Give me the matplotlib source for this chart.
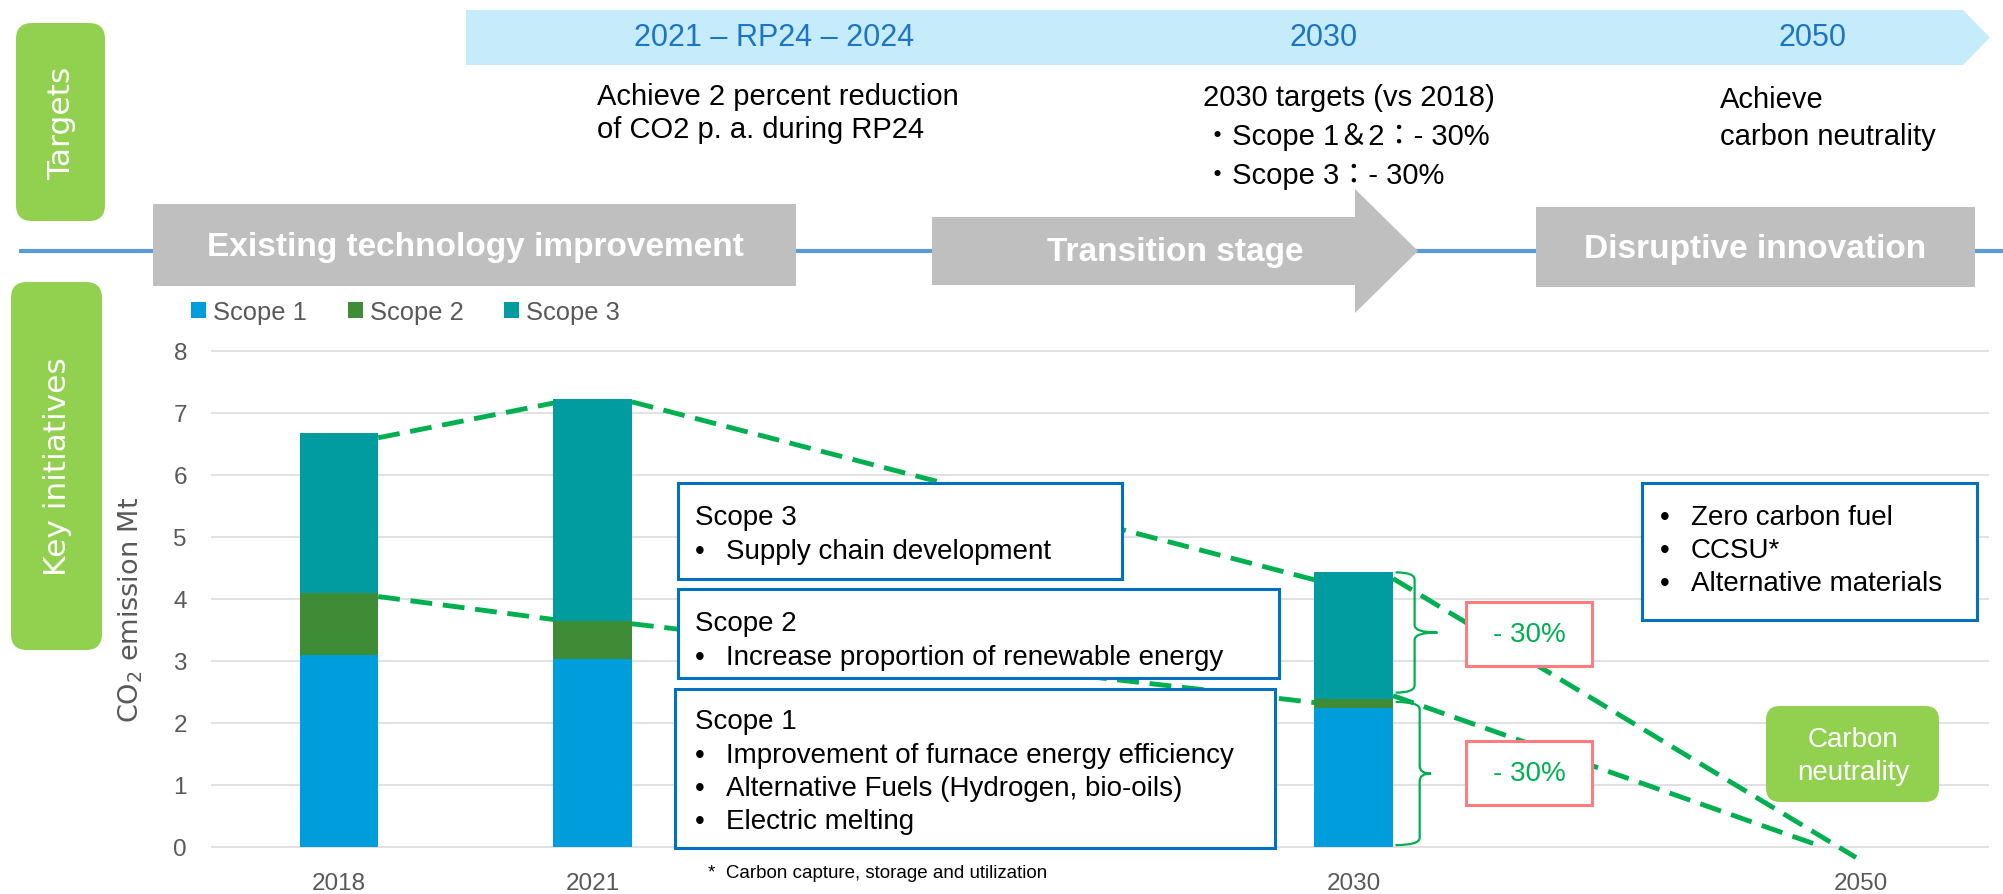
import numpy as np
import matplotlib
matplotlib.use('Agg')
import matplotlib.pyplot as plt
from matplotlib.patches import Rectangle, Polygon, FancyBboxPatch, PathPatch
from matplotlib.path import Path

W, H = 2003, 895

# chart data (Mt CO2), blank categories keep the original spacing
categories = ['2018', '2021', '', '', '2030', '', '2050']
scope1 = [3.09, 3.03, 0, 0, 2.25, 0, 0]
scope2 = [1.00, 0.62, 0, 0, 0.14, 0, 0]
scope3 = [2.59, 3.58, 0, 0, 2.04, 0, 0]
series_names = ['Scope 1', 'Scope 2', 'Scope 3']
y_ticks = [0, 1, 2, 3, 4, 5, 6, 7, 8]
target_2050 = 0.0

# text content
timeline_labels = ['2021 – RP24 – 2024', '2030', '2050']
rp24_note = ['Achieve 2 percent reduction', 'of CO2 p. a. during RP24']
target_2030_note = ['2030 targets (vs 2018)', '・Scope 1＆2：- 30%', '・Scope 3：- 30%']
target_2050_note = ['Achieve', 'carbon neutrality']
phases = ['Existing technology improvement', 'Transition stage', 'Disruptive innovation']
scope3_items = ['Supply chain development']
scope2_items = ['Increase proportion of renewable energy']
scope1_items = ['Improvement of furnace energy efficiency',
                'Alternative Fuels (Hydrogen, bio-oils)',
                'Electric melting']
future_items = ['Zero carbon fuel', 'CCSU*', 'Alternative materials']
reduction_label = '- 30%'
footnote = '*  Carbon capture, storage and utilization'

C_S1 = '#009DDC'
C_S2 = '#3E8C35'
C_S3 = '#009C9F'
GREEN_DASH = '#00B050'
BOX_BLUE = '#0070C0'
PINK = '#FF7C80'
LIME = '#92D050'
GRAY_BOX = '#BFBFBF'
TXT_GRAY = '#595959'

SANS = ['Liberation Sans', 'DejaVu Sans']
CJK = ['Liberation Sans', 'Noto Sans CJK JP', 'DejaVu Sans']
VERD = ['DejaVu Sans']
plt.rcParams['font.family'] = SANS

fig = plt.figure(figsize=(W / 100, H / 100), dpi=100)

# ---- chart ----
ax = fig.add_axes([212 / W, (H - 848) / H, 1776 / W, 496 / H])
x = np.arange(len(categories))
bw = 0.31
s12 = np.add(scope1, scope2)
total = s12 + np.array(scope3)
ax.bar(x, scope1, width=bw, color=C_S1, label=series_names[0], zorder=2)
ax.bar(x, scope2, width=bw, bottom=scope1, color=C_S2, label=series_names[1], zorder=2)
ax.bar(x, scope3, width=bw, bottom=s12, color=C_S3, label=series_names[2], zorder=2)

ax.set_xlim(-0.5, len(categories) - 0.5)
ax.set_ylim(0, 8)
ax.set_yticks(y_ticks)
ax.set_xticks(x)
ax.set_xticklabels(categories)
ax.tick_params(length=0, pad=18, labelsize=17.5, labelcolor=TXT_GRAY)
for s in ax.spines.values():
    s.set_visible(False)
ax.yaxis.grid(True, color='#D9D9D9', lw=1.1)
ax.set_axisbelow(True)
for gl in ax.get_ygridlines():
    gl.set_clip_on(False)

ax.set_ylabel('CO$_2$ emission Mt', fontsize=19.5, color=TXT_GRAY, family=VERD, va='center')
ax.yaxis.set_label_coords(-0.0456, 0.48)

ax.legend(ncol=3, loc='center left', bbox_to_anchor=(191 / W, 1 - 313 / H),
          bbox_transform=fig.transFigure, frameon=False, fontsize=18.4,
          labelcolor=TXT_GRAY, handlelength=0.59, handleheight=0.59,
          handletextpad=0.27, columnspacing=1.6, borderpad=0, borderaxespad=0)

# trend lines between bars
i18, i21, i30, i50 = 0, 1, 4, 6
hw = bw / 2
dash = dict(color=GREEN_DASH, lw=3.5, ls=(0, (4.5, 2.2)), clip_on=False, zorder=3,
            dash_capstyle='butt')
upper = [((i18 + hw, total[i18] - 0.08), (i21 - hw, total[i21] - 0.07)),
         ((i21 + hw, total[i21] - 0.05), (i30 - hw, total[i30] - 0.12)),
         ((i30 + hw, total[i30] - 0.10), (i50 - 0.02, target_2050 - 0.17))]
lower = [((i18 + hw, s12[i18] - 0.05), (i21 - hw, s12[i21] + 0.02)),
         ((i21 + hw, s12[i21] - 0.05), (i30 - hw, s12[i30] - 0.06)),
         ((i30 + hw, s12[i30] + 0.05), (i50 - 0.15, target_2050))]
for (xa, ya), (xb, yb) in upper + lower:
    ax.plot([xa, xb], [ya, yb], **dash)


def brace(x0, xv, xt, ytop, ybot, r):
    ymid = (ytop + ybot) / 2
    verts = [(x0, ytop), (xv, ytop), (xv, ytop - r), (xv, ymid + r),
             (xv, ymid), (xt, ymid), (xv, ymid), (xv, ymid - r),
             (xv, ybot + r), (xv, ybot), (x0, ybot)]
    codes = [Path.MOVETO, Path.CURVE3, Path.CURVE3, Path.LINETO,
             Path.CURVE3, Path.CURVE3, Path.CURVE3, Path.CURVE3,
             Path.LINETO, Path.CURVE3, Path.CURVE3]
    ax.add_patch(PathPatch(Path(verts, codes), fill=False, ec=GREEN_DASH,
                           lw=1.6, clip_on=False, zorder=4))


brace(i30 + hw + 0.01, i30 + 0.24, i30 + 0.33, total[i30], s12[i30] + 0.1, 0.12)
brace(i30 + hw + 0.01, i30 + 0.26, i30 + 0.305, s12[i30] - 0.05, 0.03, 0.12)

# ---- overlay in pixel coordinates ----
ov = fig.add_axes([0, 0, 1, 1])
ov.set_xlim(0, W)
ov.set_ylim(H, 0)
ov.axis('off')

ov.plot([19, W], [252, 252], color='#5B9BD5', lw=3, zorder=1, solid_capstyle='butt')

# timeline banner
ov.add_patch(Polygon([(466, 11), (1963, 11), (1990, 38.5), (1963, 66), (466, 66)],
                     closed=True, fc='#C6ECFC', ec='none'))
for lab, cx in zip(timeline_labels, [774, 1324, 1813]):
    ov.text(cx, 38, lab, fontsize=22, color='#1C75C4', ha='center', va='center')

for i, line in enumerate(rp24_note):
    ov.text(597, 97 + 33 * i, line, fontsize=21, ha='left', va='center')
for i, line in enumerate(target_2030_note):
    ov.text(1203, 98 + 39 * i, line, fontsize=21, ha='left', va='center', family=CJK)
for i, line in enumerate(target_2050_note):
    ov.text(1720, 100 + 37 * i, line, fontsize=21, ha='left', va='center')

# side labels
for (x0, y0, w, h), lab, cy in [((16, 24, 89, 198), 'Targets', 123),
                                ((11, 283, 91, 368), 'Key initiatives', 467)]:
    ov.add_patch(FancyBboxPatch((x0, y0), w, h, boxstyle='round,pad=0,rounding_size=16',
                                fc=LIME, ec='none'))
    ov.text(x0 + w / 2 + 1, cy, lab, rotation=90, fontsize=22.5, color='white',
            ha='center', va='center', family=VERD)

# phase shapes
ov.add_patch(Rectangle((153, 205), 643, 82, fc=GRAY_BOX, ec='none', zorder=2))
ov.add_patch(Polygon([(932, 218), (1355, 218), (1355, 190), (1418, 252),
                      (1355, 314), (1355, 286), (932, 286)],
                     closed=True, fc=GRAY_BOX, ec='none', zorder=2))
ov.add_patch(Rectangle((1536, 208), 439, 80, fc=GRAY_BOX, ec='none', zorder=2))
for lab, cx, cy in zip(phases, [475, 1175, 1755], [247, 252, 249]):
    ov.text(cx, cy, lab, fontsize=24, fontweight='bold', color='white',
            ha='center', va='center', zorder=3)


def init_box(x0, y0, x1, y1, title, items, ty, tx=695, ix=726, step=33):
    ov.add_patch(Rectangle((x0, y0), x1 - x0, y1 - y0, fc='white', ec=BOX_BLUE,
                           lw=2.2, zorder=5))
    row = ty
    if title:
        ov.text(tx, row, title, fontsize=20, ha='left', va='center', zorder=6)
        row += step + 1
    for it in items:
        ov.text(tx, row, '•', fontsize=20, ha='left', va='center', zorder=6)
        ov.text(ix, row, it, fontsize=20, ha='left', va='center', zorder=6)
        row += step


init_box(678, 484, 1122, 580, 'Scope 3', scope3_items, 518)
init_box(678, 590, 1279, 679, 'Scope 2', scope2_items, 624)
init_box(675, 690, 1275, 849, 'Scope 1', scope1_items, 722)
init_box(1642, 484, 1977, 621, None, future_items, 518, tx=1660, ix=1691)

for y0 in [603, 742]:
    ov.add_patch(Rectangle((1466, y0), 126, 64, fc='white', ec=PINK, lw=2.2, zorder=5))
    ov.text(1529, y0 + 32, reduction_label, fontsize=20, color=GREEN_DASH,
            ha='center', va='center', zorder=6)

ov.add_patch(FancyBboxPatch((1766, 707), 173, 96, boxstyle='round,pad=0,rounding_size=14',
                            fc=LIME, ec='none', zorder=5))
ov.text(1853, 740, 'Carbon', fontsize=20, color='white', ha='center', va='center', zorder=6)
ov.text(1853, 773, 'neutrality', fontsize=20, color='white', ha='center', va='center', zorder=6)

ov.text(708, 874, footnote, fontsize=13.5, ha='left', va='center')

fig.savefig('out.png', dpi=100)
